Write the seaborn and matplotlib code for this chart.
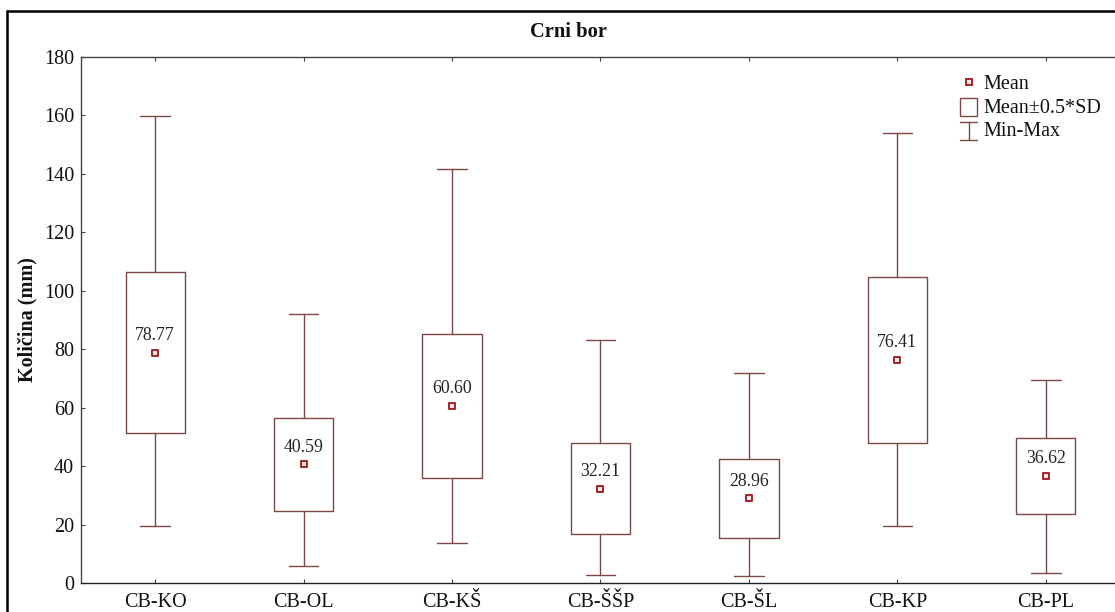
import matplotlib
matplotlib.use("Agg")
import matplotlib.pyplot as plt
import seaborn as sns
import pandas as pd
from matplotlib.lines import Line2D
from matplotlib.patches import Rectangle
from matplotlib.legend_handler import HandlerBase

categories = ["CB-KO", "CB-OL", "CB-KŠ", "CB-ŠŠP", "CB-ŠL", "CB-KP", "CB-PL"]
means = [78.77, 40.59, 60.60, 32.21, 28.96, 76.41, 36.62]
box_low = [51.2, 24.7, 35.8, 16.7, 15.3, 47.8, 23.6]
box_high = [106.3, 56.6, 85.3, 47.8, 42.4, 104.8, 49.7]
mins = [19.6, 5.9, 13.7, 2.9, 2.5, 19.4, 3.4]
maxs = [159.9, 92.2, 141.7, 83.2, 72.0, 153.9, 69.5]
yticks = [0, 20, 40, 60, 80, 100, 120, 140, 160, 180]

sns.set_theme(style="white")
plt.rcParams["font.family"] = ["Liberation Serif", "DejaVu Serif"]

LINE = "#7d4848"
MEAN_EDGE = "#a3232a"
AXC = "#444444"

fig = plt.figure(figsize=(11.15, 6.12), dpi=100)
ax = fig.add_axes([81 / 1115, 1 - 583 / 612, (1120 - 81) / 1115, (583 - 57) / 612])

stats = []
for c, m, lo, hi, mn, mx in zip(categories, means, box_low, box_high, mins, maxs):
    stats.append(dict(label=c, med=m, q1=lo, q3=hi, whislo=mn, whishi=mx, mean=m, fliers=[]))

ax.bxp(stats, positions=range(len(categories)), widths=0.40, showmeans=False,
       showfliers=False, patch_artist=False,
       boxprops=dict(color=LINE, lw=1.0),
       whiskerprops=dict(color=LINE, lw=1.0),
       capprops=dict(color=LINE, lw=1.0),
       medianprops=dict(visible=False), capwidths=0.2)

df = pd.DataFrame({"pos": range(len(categories)), "mean": means, "cat": categories})
sns.scatterplot(data=df, x="pos", y="mean", ax=ax, marker="s", s=24,
                color="#f4e6e6", edgecolor=MEAN_EDGE, linewidth=1.4, zorder=5, legend=False)

for i, m in enumerate(means):
    ax.annotate(f"{m:.2f}", (i, m), xytext=(0, 12.5), textcoords="offset points",
                ha="center", va="center", fontsize=12.8, color="#222222")

ax.set_xlim(-0.5, 6.5)
ax.set_ylim(0, 180)
ax.set_yticks(yticks)
ax.set_xticks(range(len(categories)))
ax.set_xticklabels(categories)
ax.tick_params(axis="both", direction="in", length=3, width=0.8, color=AXC,
               labelsize=14.5, labelcolor="#111111", top=True, right=True, bottom=True, left=True)
ax.tick_params(axis="x", pad=7)
ax.tick_params(axis="y", pad=5)
for s in ax.spines.values():
    s.set_color(AXC)
    s.set_linewidth(1.0)
ax.spines["bottom"].set_color("#222222")
ax.set_xlabel("")
ax.set_ylabel("")

fig.text(27 / 1115, 1 - 320 / 612, "Količina (mm)", rotation=90, ha="center", va="center",
         fontsize=14.5, fontweight="bold", color="#111111")
fig.text(568 / 1115, 1 - 32 / 612, "Crni bor", ha="center", va="center",
         fontsize=14.8, fontweight="bold", color="#111111")

# outer frame
fig.add_artist(Line2D([7 / 1115, 7 / 1115], [-0.1, 1 - 11 / 612], transform=fig.transFigure,
                      color="black", lw=1.8))
fig.add_artist(Line2D([7 / 1115, 1.1], [1 - 11 / 612, 1 - 11 / 612], transform=fig.transFigure,
                      color="black", lw=1.8))


class HandlerIBar(HandlerBase):
    def create_artists(self, legend, orig_handle, xdescent, ydescent, width, height, fontsize, trans):
        cx = width / 2 - xdescent
        top = height * 1.0
        bot = -height * 0.3
        cw = width * 0.5
        l1 = Line2D([cx, cx], [bot, top], color=LINE, lw=1.0, transform=trans)
        l2 = Line2D([cx - cw, cx + cw], [top, top], color=LINE, lw=1.0, transform=trans)
        l3 = Line2D([cx - cw, cx + cw], [bot, bot], color=LINE, lw=1.0, transform=trans)
        return [l1, l2, l3]


class HandlerBox(HandlerBase):
    def create_artists(self, legend, orig_handle, xdescent, ydescent, width, height, fontsize, trans):
        w = width * 1.0
        r = Rectangle((width / 2 - w / 2 - xdescent, -height * 0.25), w, height * 1.3,
                      facecolor="white", edgecolor=LINE, lw=1.0, transform=trans)
        return [r]


class IBar:
    pass


class BoxH:
    pass


h_mean = Line2D([], [], marker="s", linestyle="none", markersize=4.5,
                markerfacecolor="#f4e6e6", markeredgecolor=MEAN_EDGE, markeredgewidth=1.4)
h_box = BoxH()
h_ib = IBar()
leg = fig.legend([h_mean, h_box, h_ib], ["Mean", "Mean±0.5*SD", "Min-Max"],
                 loc="upper left", bbox_to_anchor=(960 / 1115, 1 - 75 / 612),
                 frameon=False, fontsize=14.5, handlelength=0.85, handletextpad=0.3,
                 labelspacing=0.22, borderpad=0, borderaxespad=0,
                 handler_map={BoxH: HandlerBox(), IBar: HandlerIBar()})
for t in leg.get_texts():
    t.set_color("#111111")

fig.savefig("out.png", dpi=100)
